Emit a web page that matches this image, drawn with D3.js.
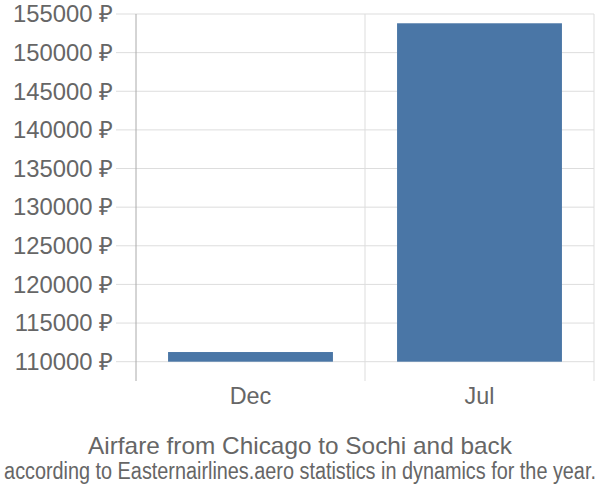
<!DOCTYPE html>
<html><head><meta charset="utf-8">
<script src="https://cdn.jsdelivr.net/npm/d3@7"></script>
<style>body{margin:0;background:#fff}</style>
</head><body>
<svg id="c" width="600" height="500"></svg>
<script>
const categories = ["Dec", "Jul"];
const values = [111250, 153800];
const yTicks = [110000,115000,120000,125000,130000,135000,140000,145000,150000,155000];
const title = "Airfare from Chicago to Sochi and back";
const subtitle = "according to Easternairlines.aero statistics in dynamics for the year.";

const svg = d3.select("#c");
const font = "'Liberation Sans', Arial, sans-serif";
const pLeft = 136, pRight = 594, pTop = 14, pBottom = 381;
const x = d3.scaleBand().domain(categories).range([pLeft, pRight]).paddingInner(0.28).paddingOuter(0.14);
const xb = d3.scaleBand().domain(categories).range([pLeft, pRight]);
const y = d3.scaleLinear().domain([107500, 155000]).range([pBottom, pTop]);

// horizontal gridlines
svg.append("g").selectAll("line").data(yTicks).join("line")
  .attr("x1", 116).attr("x2", pRight).attr("y1", d=>y(d)).attr("y2", d=>y(d))
  .attr("stroke", "#dddddd").attr("stroke-width", 1);
// vertical category separators
svg.append("g").selectAll("line").data(categories).join("line")
  .attr("x1", d=>xb(d)+xb.bandwidth()).attr("x2", d=>xb(d)+xb.bandwidth())
  .attr("y1", pTop).attr("y2", pBottom)
  .attr("stroke", "#dddddd").attr("stroke-width", 1);
// y axis line
svg.append("line").attr("x1", pLeft).attr("x2", pLeft).attr("y1", pTop).attr("y2", pBottom)
  .attr("stroke", "#aaaaaa").attr("stroke-width", 1);

// bars
svg.append("g").selectAll("rect").data(values).join("rect")
  .attr("x", (d,i)=>x(categories[i])).attr("width", x.bandwidth())
  .attr("y", d=>y(d)).attr("height", d=>y(110000)-y(d))
  .attr("fill", "#4a76a6");

// y labels
svg.append("g").selectAll("text").data(yTicks).join("text")
  .attr("x", 113).attr("y", d=>y(d)).attr("dy", "0.35em")
  .attr("text-anchor", "end").attr("fill", "#666").attr("font-family", font).attr("font-size", 23.8)
  .text(d=>d + " \u20BD");

// x labels
svg.append("g").selectAll("text").data(categories).join("text")
  .attr("x", d=>xb(d)+xb.bandwidth()/2).attr("y", 404)
  .attr("text-anchor", "middle").attr("fill", "#666").attr("font-family", font).attr("font-size", 23.4)
  .text(d=>d);

function fitText(str, cy, size, targetW) {
  const t = svg.append("text").attr("x", 0).attr("y", 0).attr("text-anchor", "middle")
    .attr("fill", "#666").attr("font-family", font).attr("font-size", size).text(str);
  const w = t.node().getComputedTextLength();
  const s = w > 0 ? targetW / w : 1;
  t.attr("transform", `translate(300,${cy}) scale(${s},1)`);
}
fitText(title, 454, 23, 424);
fitText(subtitle, 479, 23, 592);
</script>
</body></html>
